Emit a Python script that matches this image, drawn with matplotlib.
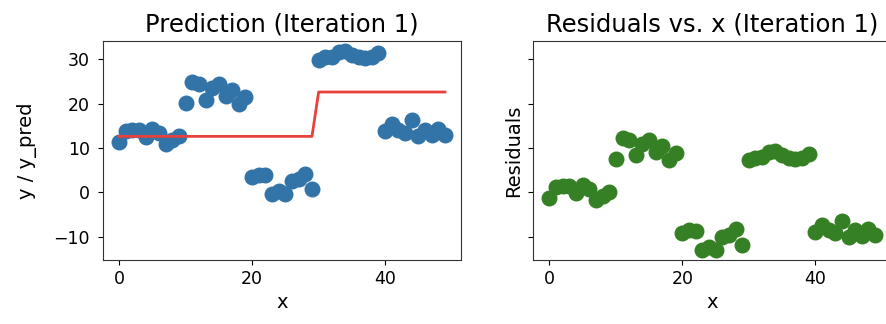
import numpy as np
import matplotlib.pyplot as plt
from matplotlib.ticker import MultipleLocator

# data
x = list(range(50))
y = [11.4, 13.8, 14.0, 14.0, 12.4, 14.3, 13.3, 10.8, 11.8, 12.6,
     20.1, 24.8, 24.3, 20.9, 23.4, 24.4, 21.6, 23.0, 19.9, 21.5,
     3.5, 4.0, 3.9, -0.4, 0.2, -0.4, 2.6, 3.0, 4.2, 0.8,
     29.8, 30.4, 30.5, 31.6, 31.9, 31.0, 30.4, 30.2, 30.4, 31.3,
     13.7, 15.3, 14.1, 13.3, 16.2, 12.6, 14.1, 12.8, 14.3, 13.0]
y_pred = [12.6] * 30 + [22.6] * 20

resid = np.array(y) - np.array(y_pred)

plt.rcParams['font.size'] = 14
plt.rcParams['xtick.labelsize'] = 12.5
plt.rcParams['ytick.labelsize'] = 12.5
plt.rcParams['axes.titlesize'] = 17.5
plt.rcParams['ytick.major.pad'] = 6

fig = plt.figure(figsize=(8.87, 3.24), dpi=100)
ax1 = fig.add_axes([0.116, 0.198, 0.404, 0.676])
ax2 = fig.add_axes([0.601, 0.198, 0.404, 0.676], sharey=ax1)

ax1.scatter(x, y, s=110, color='#3274a8')
ax1.plot(x, y_pred, color='#e8403a', linewidth=2)
ax1.set_title('Prediction (Iteration 1)', pad=7)
ax1.set_xlabel('x')
ax1.set_ylabel('y / y_pred', labelpad=12)

ax2.scatter(x, resid, s=110, color='#358024')
ax2.set_title('Residuals vs. x (Iteration 1)', pad=7)
ax2.set_xlabel('x')
ax2.set_ylabel('Residuals')
plt.setp(ax2.get_yticklabels(), visible=False)

for ax in (ax1, ax2):
    ax.xaxis.set_major_locator(MultipleLocator(20))
    for s in ax.spines.values():
        s.set_edgecolor('#333333')

fig.savefig('out.png', dpi=100)
